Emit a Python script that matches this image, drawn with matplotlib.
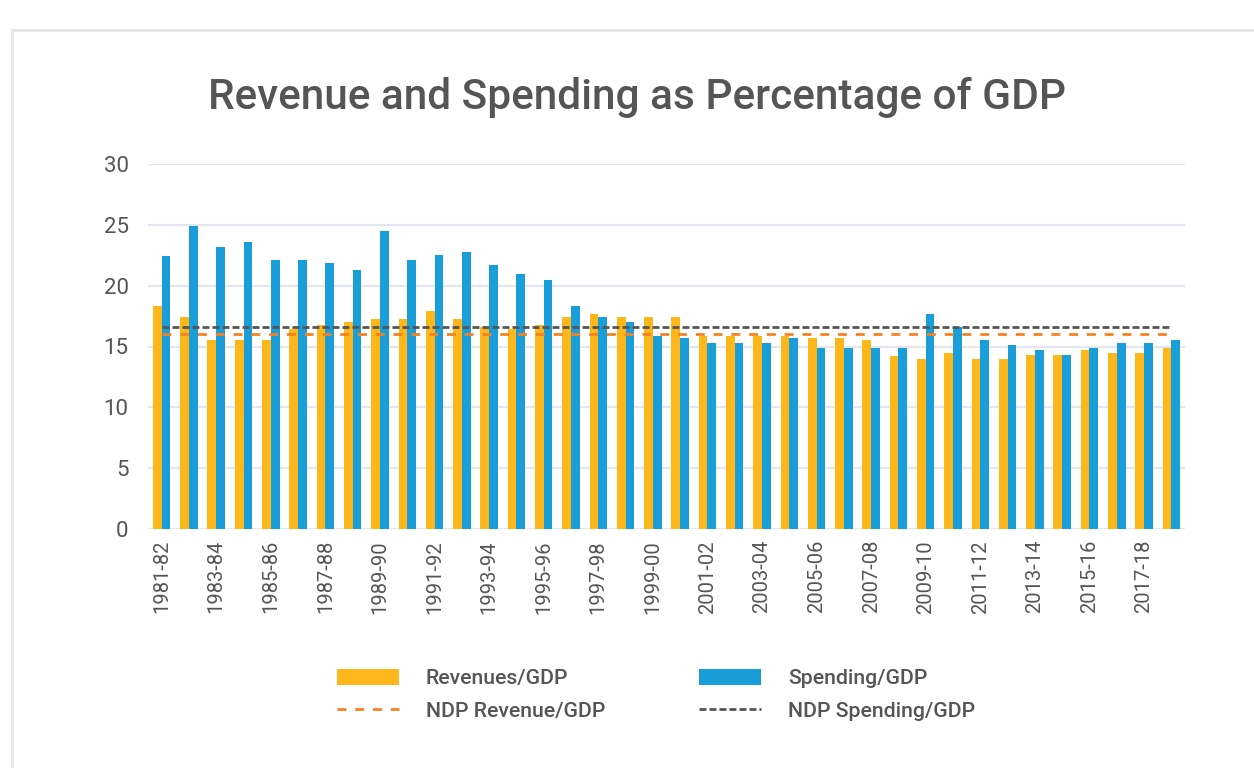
import numpy as np
import matplotlib.pyplot as plt
from matplotlib.patches import Rectangle

plt.rcParams['font.family'] = ['Roboto', 'DejaVu Sans']

# Data
years = [f"{y}-{str(y + 1)[-2:]}" for y in range(1981, 2019)]
revenues = [18.3, 17.4, 15.5, 15.5, 15.5, 16.4, 16.8, 17.0, 17.3, 17.3,
            17.9, 17.3, 16.6, 16.4, 16.8, 17.4, 17.7, 17.4, 17.4, 17.4,
            15.9, 15.9, 15.9, 15.9, 15.7, 15.7, 15.5, 14.2, 14.0, 14.5,
            14.0, 14.0, 14.3, 14.3, 14.7, 14.5, 14.5, 14.9]
spending = [22.4, 24.9, 23.2, 23.6, 22.1, 22.1, 21.9, 21.3, 24.5, 22.1,
            22.5, 22.8, 21.7, 21.0, 20.5, 18.3, 17.4, 17.0, 15.9, 15.7,
            15.3, 15.3, 15.3, 15.7, 14.9, 14.9, 14.9, 14.9, 17.7, 16.6,
            15.5, 15.1, 14.7, 14.3, 14.9, 15.3, 15.3, 15.5]
ndp_revenue = 16.0
ndp_spending = 16.6

text_col = "#555555"
x = np.arange(len(years))
w = 0.32

fig = plt.figure(figsize=(12.54, 7.68), dpi=100)
fig.patches.append(Rectangle((12 / 1254, -0.1), 1.2, 1.1 - 30 / 768,
                             transform=fig.transFigure, fill=False,
                             edgecolor="#e6e6e6", linewidth=2))
ax = fig.add_axes([148 / 1254, 1 - 529 / 768, 1037 / 1254, 365 / 768])

b1 = ax.bar(x - w / 2, revenues, w, color="#fdb71a", label="Revenues/GDP", zorder=3)
b2 = ax.bar(x + w / 2, spending, w, color="#199ed9", label="Spending/GDP", zorder=3)
l1, = ax.plot(x, [ndp_revenue] * len(x), color="#f58220", linestyle=(0, (3.2, 3.2)),
              linewidth=2, label="NDP Revenue/GDP", zorder=4)
l2, = ax.plot(x, [ndp_spending] * len(x), color="#555555", linestyle=(0, (2.5, 1.1)),
              linewidth=2, label="NDP Spending/GDP", zorder=4)

ax.set_xlim(-0.5, len(years) - 0.5)
ax.set_ylim(0, 30)
ax.set_yticks([0, 5, 10, 15, 20, 25, 30])
ax.set_xticks(x[::2])
ax.set_xticklabels(years[::2], rotation=90)
ax.tick_params(axis="both", length=0, colors=text_col)
ax.tick_params(axis="y", labelsize=16, pad=14)
ax.tick_params(axis="x", labelsize=14.5, pad=8)
ax.grid(axis="y", color="#e3e6ee", linewidth=1.5, zorder=0)
for s in ax.spines.values():
    s.set_visible(False)

fig.text(0.508, 1 - 97 / 768, "Revenue and Spending as Percentage of GDP",
         ha="center", va="center", fontsize=30.5, fontweight="medium", color=text_col)

fig.legend([b1, l1, b2, l2],
           ["Revenues/GDP", "NDP Revenue/GDP", "Spending/GDP", "NDP Spending/GDP"],
           loc="center", bbox_to_anchor=(0.523, 1 - 695 / 768), ncol=2,
           frameon=False, prop={"size": 15.3, "weight": "medium"},
           handlelength=2.95, handleheight=0.75,
           handletextpad=1.25, columnspacing=4.4, labelspacing=0.62,
           labelcolor=text_col)

fig.savefig("out.png", dpi=100)
